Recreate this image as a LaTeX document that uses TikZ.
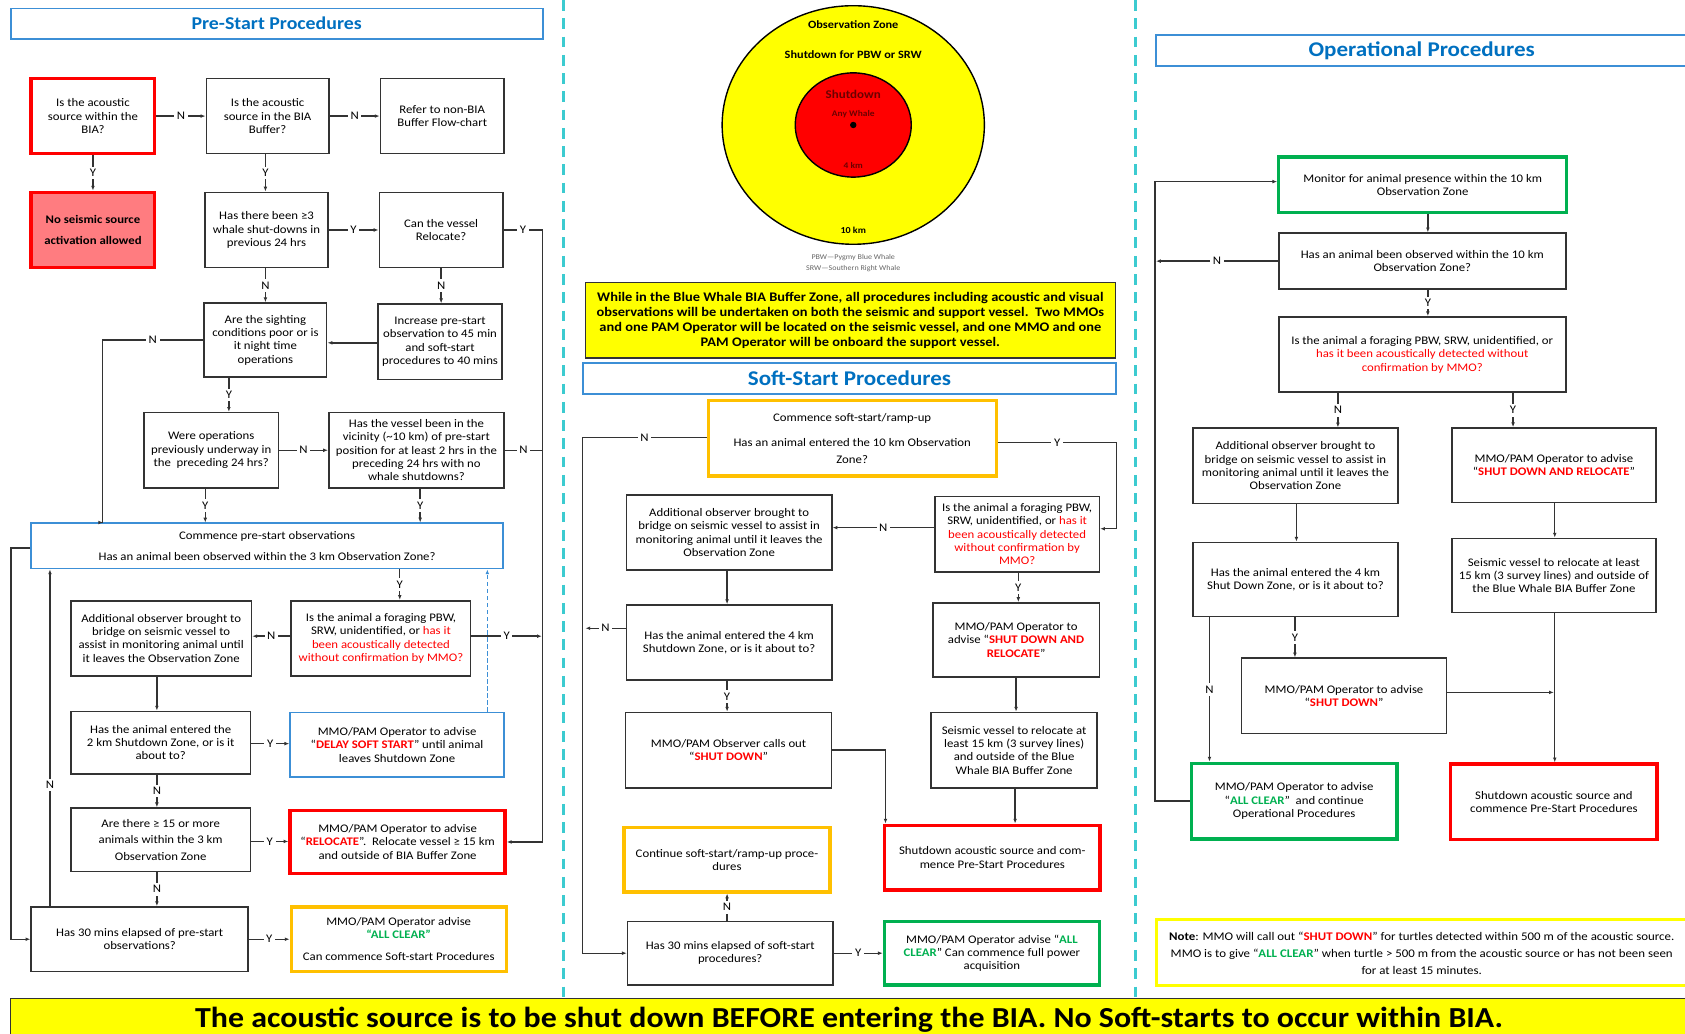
\documentclass[tikz,border=0pt]{standalone}
\usepackage{fontspec}
\setmainfont{Carlito}[FakeStretch=1.1]
\usetikzlibrary{arrows.meta}
\definecolor{bxgray}{HTML}{333333}
\definecolor{ttlblue}{HTML}{0070C0}
\definecolor{lineblue}{HTML}{3C8FD6}
\definecolor{redb}{HTML}{FF0000}
\definecolor{pinkf}{HTML}{FF7C80}
\definecolor{orangeb}{HTML}{FFC000}
\definecolor{greenb}{HTML}{00B050}
\definecolor{yel}{HTML}{FFFF00}
\definecolor{sepcol}{HTML}{3CCBD0}
\definecolor{maroon}{HTML}{6B0000}
\newcommand{\bxfont}{\fontsize{10.8}{12.4}\selectfont}
\newcommand{\ttlfont}{\fontsize{16.8}{20}\selectfont\bfseries}
\newcommand{\bigttlfont}{\fontsize{19.5}{22}\selectfont\bfseries}
\newcommand{\rd}[1]{\textcolor{redb}{#1}}
\newcommand{\rdb}[1]{\textcolor{redb}{\bfseries #1}}
\newcommand{\grb}[1]{\textcolor{greenb}{\bfseries #1}}
\tikzstyle{bx}=[draw=bxgray,line width=1.5pt,align=center,inner sep=1pt,font=\bxfont]
\tikzstyle{rbx}=[bx,draw=redb,line width=3.2pt]
\tikzstyle{obx}=[bx,draw=orangeb,line width=3pt]
\tikzstyle{gbx}=[bx,draw=greenb,line width=3pt]
\tikzstyle{bbx}=[bx,draw=lineblue,line width=1.6pt]
\tikzstyle{ttl}=[draw=lineblue,line width=1.6pt,text=ttlblue,font=\ttlfont]
\tikzstyle{lab}=[fill=white,inner sep=2.5pt,font=\bxfont]
\tikzstyle{ln}=[draw=bxgray,line width=1.3pt]
\tikzstyle{arr}=[ln,-{Latex[length=4.5pt,width=3.5pt]}]
\tikzstyle{sep}=[draw=sepcol,line width=2.8pt,dash pattern=on 10pt off 7pt]
\begin{document}
\begin{tikzpicture}[x=1pt,y=-1pt]
\useasboundingbox (0,0) rectangle (1568,962);
\node[ttl,minimum width=495pt,minimum height=28pt] (pst) at (257.5,22) {Pre-Start Procedures};
\node[rbx,minimum width=115pt,minimum height=70pt] (a1) at (86.5,108) {Is the acoustic\\source within the\\BIA?};
\node[bx,minimum width=114pt,minimum height=70pt] (a2) at (249,108) {Is the acoustic\\source in the BIA\\Buffer?};
\node[bx,minimum width=115pt,minimum height=70pt] (a3) at (411.5,108) {Refer to non-BIA\\Buffer Flow-chart};
\node[rbx,fill=pinkf,font=\bxfont\bfseries,minimum width=115pt,minimum height=70pt] (a4) at (86.5,214) {No seismic source\\[6.5pt]activation allowed};
\node[bx,minimum width=114pt,minimum height=70pt] (b1) at (248,214) {Has there been ≥3\\whale shut-downs in\\previous 24 hrs};
\node[bx,minimum width=115pt,minimum height=70pt] (b2) at (410.5,214) {Can the vessel\\Relocate?};
\node[bx,minimum width=114pt,minimum height=69pt] (c1) at (247,316.5) {Are the sighting\\conditions poor or is\\it night time\\operations};
\node[bx,minimum width=115pt,minimum height=70pt] (c2) at (409.5,318) {Increase pre-start\\observation to 45 min\\and soft-start\\procedures to 40 mins};
\node[bx,minimum width=125pt,minimum height=70pt] (d1) at (196.5,419) {Were operations\\previously underway in\\the\ \ preceding 24 hrs?};
\node[bx,minimum width=163pt,minimum height=70pt] (d2) at (387.5,419) {Has the vessel been in the\\vicinity (\textasciitilde10 km) of pre-start\\position for at least 2 hrs in the\\preceding 24 hrs with no\\whale shutdowns?};
\node[bbx,minimum width=439pt,minimum height=42pt] (e) at (248.5,508) {Commence pre-start observations\\[6.5pt]Has an animal been observed within the 3 km Observation Zone?};
\node[bx,minimum width=168pt,minimum height=70pt] (e1) at (150,594) {Additional observer brought to\\bridge on seismic vessel to\\assist in monitoring animal until\\it leaves the Observation Zone};
\node[bx,minimum width=167pt,minimum height=70pt] (e2) at (354.5,594) {Is the animal a foraging PBW,\\SRW, unidentified, or \rd{has it}\\\rd{been acoustically detected}\\\rd{without confirmation by MMO?}};
\node[bx,minimum width=167pt,minimum height=58pt] (f1) at (149.5,691) {Has the animal entered the\\2 km Shutdown Zone, or is it\\about to?};
\node[bbx,minimum width=199pt,minimum height=60pt] (f2) at (369.5,693) {MMO/PAM Operator to advise\\“\rdb{DELAY SOFT START}” until animal\\leaves Shutdown Zone};
\node[bx,minimum width=167pt,minimum height=59pt] (g1) at (149.5,781.5) {Are there ≥ 15 or more\\[3pt]animals within the 3 km\\[3pt]Observation Zone};
\node[rbx,minimum width=200pt,minimum height=59pt] (g2) at (370,783.5) {MMO/PAM Operator to advise\\“\rdb{RELOCATE}”.\ \ Relocate vessel ≥ 15 km\\and outside of BIA Buffer Zone};
\node[bx,minimum width=202pt,minimum height=60pt] (h1) at (130,874) {Has 30 mins elapsed of pre-start\\observations?};
\node[obx,minimum width=200pt,minimum height=60pt] (h2) at (371,874) {MMO/PAM Operator advise\\\grb{“ALL CLEAR”}\\[8pt]Can commence Soft-start Procedures};
\draw[arr] (a1) -- node[lab]{N} (a2);
\draw[arr] (a2) -- node[lab]{N} (a3);
\draw[arr] (a1) -- node[lab]{Y} (a4);
\draw[arr] ([xshift=-2pt]a2.south) -- node[lab]{Y} ([xshift=-2pt]a2.south |- b1.north);
\draw[arr] (b1) -- node[lab]{Y} (b2);
\draw[arr] (b2.east) -- node[lab]{Y} ++(36,0) |- (g2.east);
\draw[arr] ([xshift=-1pt]b1.south) -- node[lab]{N} ([xshift=-1pt]b1.south |- c1.north);
\draw[arr] (b2.south) -- node[lab]{N} (b2.south |- c2.north);
\draw[arr] ([yshift=-1pt]c2.west) -- ([yshift=-1pt]c2.west -| c1.east);
\draw[arr] (c1.west) -- node[lab]{N} ++(-94,0) |- ([xshift=-152.5pt]e.north);
\draw[arr] ([xshift=-34pt]c1.south) -- node[lab]{Y} ([xshift=-34pt]c1.south |- d1.north);
\draw[arr] (d1) -- node[lab]{N} (d2);
\draw[ln] (d2.east) -- node[lab]{N} ++(35,0);
\draw[arr] ([xshift=-5.5pt]d1.south) -- node[lab]{Y} ([xshift=-5.5pt]d1.south |- e.north);
\draw[arr] ([xshift=3.5pt]d2.south) -- node[lab]{Y} ([xshift=3.5pt]d2.south |- e.north);
\draw[arr] ([xshift=123.5pt]e.south) -- node[lab]{Y} ([xshift=123.5pt]e.south |- e2.north);
\draw[arr] ([yshift=2pt]e2.west) -- node[lab]{N} ([yshift=2pt]e2.west -| e1.east);
\draw[arr] ([yshift=2pt]e2.east) -- node[lab]{Y} ++(65.5,0);
\draw[arr] ([xshift=-4pt]e1.south) -- ([xshift=-4pt]e1.south |- f1.north);
\draw[arr] ([yshift=-1pt]f1.east) -- node[lab]{Y} ([yshift=-1pt]f1.east -| f2.west);
\draw[arr,draw=lineblue,dash pattern=on 4pt off 2.5pt] ([xshift=84pt]f2.north) -- ([xshift=84pt]f2.north |- e.south);
\draw[arr] ([xshift=-3.5pt]f1.south) -- node[lab]{N} ([xshift=-3.5pt]f1.south |- g1.north);
\draw[arr] ([yshift=-1.5pt]g1.east) -- node[lab]{Y} ([yshift=-1.5pt]g1.east -| g2.west);
\draw[arr] ([xshift=-3.5pt]g1.south) -- node[lab]{N} ([xshift=-3.5pt]g1.south |- h1.north);
\draw[arr] (h1.east) -- node[lab]{Y} (h1.east -| h2.west);
\draw[arr] ([xshift=-83.5pt]h1.north) -- node[lab,pos=0.36]{N} ([xshift=-83.5pt]h1.north |- e.south);
\draw[arr] ([yshift=-2pt]e.west) -- ++(-18,0) |- (h1.west);
\draw[sep] (524.6,0) -- (524.6,929);
\draw[sep] (1057,0) -- (1057,929);
\draw[line width=1.3pt,fill=yel] (794,116.3) ellipse [x radius=122pt,y radius=111pt];
\draw[line width=1.3pt,fill=redb] (794,116.3) ellipse [x radius=54pt,y radius=48.5pt];
\fill (794,116.3) circle [radius=3pt];
\node[font=\fontsize{10.4}{12}\selectfont\bfseries] (obz) at (794,22.6) {Observation Zone};
\node[font=\fontsize{10.4}{12}\selectfont\bfseries] (sdp) at (794,50.6) {Shutdown for PBW or SRW};
\node[font=\fontsize{11}{12}\selectfont\bfseries,text=maroon] (sdn) at (794,87.8) {Shutdown};
\node[font=\fontsize{8}{9}\selectfont\bfseries,text=maroon] (anw) at (794,106.5) {Any Whale};
\node[font=\fontsize{8}{9}\selectfont\bfseries,text=maroon] (fkm) at (794,154) {4 km};
\node[font=\fontsize{8.5}{10}\selectfont\bfseries] (tkm) at (794,214) {10 km};
\node[font=\fontsize{6.8}{10}\selectfont,text=black!60,align=center] (lgd) at (794,244.5) {PBW—Pygmy Blue Whale\\SRW—Southern Right Whale};
\node[fill=yel,draw=bxgray,line width=1.3pt,align=center,inner sep=1pt,font=\fontsize{12.2}{14}\selectfont\bfseries,minimum width=493.4pt,minimum height=70pt] (bwz) at (791.3,298) {While in the Blue Whale BIA Buffer Zone, all procedures including acoustic and visual\\observations will be undertaken on both the seismic and support vessel.\ \ Two MMOs\\and one PAM Operator will be located on the seismic vessel, and one MMO and one\\PAM Operator will be onboard the support vessel.};
\node[ttl,font=\bigttlfont,minimum width=496pt,minimum height=28.7pt] (sst) at (790.5,352) {Soft-Start Procedures};
\node[obx,minimum width=268pt,minimum height=70pt] (s1) at (793,408) {Commence soft-start/ramp-up\\[10.5pt]Has an animal entered the 10 km Observation\\[3.5pt]Zone?};
\node[bx,minimum width=191pt,minimum height=70pt] (s2) at (678.5,495.5) {Additional observer brought to\\bridge on seismic vessel to assist in\\monitoring animal until it leaves the\\Observation Zone};
\node[bx,minimum width=153pt,minimum height=70pt] (s3) at (946.5,497) {Is the animal a foraging PBW,\\SRW, unidentified, or \rd{has it}\\\rd{been acoustically detected}\\\rd{without confirmation by}\\\rd{MMO?}};
\node[bx,minimum width=191pt,minimum height=70pt] (s4) at (678.5,598) {Has the animal entered the 4 km\\Shutdown Zone, or is it about to?};
\node[bx,minimum width=155pt,minimum height=69pt] (s5) at (945.5,595.5) {MMO/PAM Operator to\\advise “\rdb{SHUT DOWN AND}\\\rdb{RELOCATE}”};
\node[bx,minimum width=191.6pt,minimum height=70pt] (s6) at (678,698) {MMO/PAM Observer calls out\\“\rdb{SHUT DOWN}”};
\node[bx,minimum width=154.6pt,minimum height=70pt] (s7) at (943.7,698) {Seismic vessel to relocate at\\least 15 km (3 survey lines)\\and outside of the Blue\\Whale BIA Buffer Zone};
\node[rbx,minimum width=200.8pt,minimum height=60pt] (s8) at (923.4,798) {Shutdown acoustic source and com-\\mence Pre-Start Procedures};
\node[obx,minimum width=191.7pt,minimum height=60pt] (s10) at (676.5,800) {Continue soft-start/ramp-up proce-\\dures};
\node[bx,minimum width=191pt,minimum height=59pt] (s9) at (679.5,887) {Has 30 mins elapsed of soft-start\\procedures?};
\node[gbx,minimum width=200pt,minimum height=59pt] (s11) at (923,887) {MMO/PAM Operator advise “\grb{ALL}\\\grb{CLEAR}” Can commence full power\\acquisition};
\draw[arr] ([yshift=1pt]s1.west) -- node[lab]{N} ++(-115.5,0) |- (s9.west);
\draw[arr] ([yshift=-4pt]s1.east) -- node[lab]{Y} ++(110.6,0) |- ([yshift=5pt]s3.east);
\draw[arr] ([yshift=6pt]s3.west) -- node[lab]{N} ([yshift=6pt]s3.west -| s2.east);
\draw[arr] ([xshift=-1.9pt]s2.south) -- ([xshift=-1.9pt]s2.south |- s4.north);
\draw[arr] ([yshift=13.4pt]s4.west) -- node[lab]{N} ++(-37.5,0);
\draw[arr] ([xshift=1.1pt]s3.south) -- node[lab]{Y} ([xshift=1.1pt]s3.south |- s5.north);
\draw[arr] ([xshift=-1.9pt]s4.south) -- node[lab]{Y} ([xshift=-1.9pt]s4.south |- s6.north);
\draw[arr] (s6.east) -| ([xshift=-99.4pt]s8.north);
\draw[arr] (s5.south) -- (s5.south |- s7.north);
\draw[arr] ([xshift=0.9pt]s7.south) -- ([xshift=0.9pt]s7.south |- s8.north);
\draw[arr] ([xshift=-2.9pt]s9.north) -- node[lab]{N} ([xshift=-2.9pt]s9.north |- s10.south);
\draw[arr] (s9.east) -- node[lab]{Y} (s9.east -| s11.west);
\draw[draw=lineblue,line width=1.6pt] (1075.4,32.6) rectangle (1590,61.4);
\node[text=ttlblue,font=\bigttlfont] (opt) at (1323,47) {Operational Procedures};
\node[gbx,minimum width=267.7pt,minimum height=52pt] (r1) at (1323.9,172) {Monitor for animal presence within the 10 km\\Observation Zone};
\node[bx,minimum width=267pt,minimum height=52pt] (r2) at (1323.5,243) {Has an animal been observed within the 10 km\\Observation Zone?};
\node[bx,minimum width=267pt,minimum height=70pt] (r3) at (1323.5,330) {Is the animal a foraging PBW, SRW, unidentified, or\\\rd{has it been acoustically detected without}\\\rd{confirmation by MMO?}};
\node[bx,minimum width=191pt,minimum height=70pt] (r4) at (1205.5,433.5) {Additional observer brought to\\bridge on seismic vessel to assist in\\monitoring animal until it leaves the\\Observation Zone};
\node[bx,minimum width=190pt,minimum height=69.5pt] (r5) at (1446,433) {MMO/PAM Operator to advise\\“\rdb{SHUT DOWN AND RELOCATE}”};
\node[bx,minimum width=191pt,minimum height=69pt] (r6) at (1205.5,539.3) {Has the animal entered the 4 km\\Shut Down Zone, or is it about to?};
\node[bx,minimum width=190pt,minimum height=69pt] (r7) at (1446,535.5) {Seismic vessel to relocate at least\\15 km (3 survey lines) and outside of\\the Blue Whale BIA Buffer Zone};
\node[bx,minimum width=190.7pt,minimum height=70pt] (r9) at (1250.7,647.5) {MMO/PAM Operator to advise\\“\rdb{SHUT DOWN}”};
\node[gbx,minimum width=191.3pt,minimum height=70.5pt] (r8) at (1204.3,745.5) {MMO/PAM Operator to advise\\“\grb{ALL CLEAR}”\ \ and continue\\Operational Procedures};
\node[rbx,minimum width=192pt,minimum height=70pt] (r10) at (1446,746) {Shutdown acoustic source and\\commence Pre-Start Procedures};
\draw[arr] ([xshift=4.8pt]r1.south) -- ([xshift=4.8pt]r1.south |- r2.north);
\draw[arr] (r2.west) -- node[lab]{N} ++(-113.6,0);
\draw[arr] ([xshift=5.2pt]r2.south) -- node[lab]{Y} ([xshift=5.2pt]r2.south |- r3.north);
\draw[arr] ([xshift=-78.5pt]r3.south) -- node[lab]{N} ([xshift=-78.5pt]r3.south |- r4.north);
\draw[arr] ([xshift=84.5pt]r3.south) -- node[lab]{Y} ([xshift=84.5pt]r3.south |- r5.north);
\draw[arr] ([xshift=0.9pt]r4.south) -- ([xshift=0.9pt]r4.south |- r6.north);
\draw[arr] ([xshift=0.8pt]r5.south) -- ([xshift=0.8pt]r5.south |- r7.north);
\draw[arr] ([xshift=-0.5pt]r6.south) -- node[lab]{Y} ([xshift=-0.5pt]r6.south |- r9.north);
\draw[arr] ([xshift=-80pt]r6.south) -- node[lab]{N} ([xshift=-80pt]r6.south |- r8.north);
\draw[arr] ([yshift=3.2pt]r9.east) -- ([yshift=3.2pt]r9.east -| r10.north);
\draw[arr] ([xshift=0.8pt]r7.south) -- ([xshift=0.8pt]r7.south |- r10.north);
\draw[arr] (r8.west) -- ++(-32.3,0) |- ([yshift=3pt]r1.west);
\draw[draw=yel,line width=2.6pt] (1076,855.5) rectangle (1590,917.2);
\node[font=\fontsize{10.9}{16}\selectfont,align=center] (note) at (1323,887) {\textbf{Note}: MMO will call out “\rdb{SHUT DOWN}” for turtles detected within 500 m of the acoustic source.\\MMO is to give “\grb{ALL CLEAR}” when turtle > 500 m from the acoustic source or has not been seen\\for at least 15 minutes.};
\draw[draw=bxgray,line width=1.3pt,fill=yel] (10,929) rectangle (1590,990);
\node[anchor=base,font=\fontsize{27}{30}\selectfont\bfseries] (bnr) at (790,956) {The acoustic source is to be shut down BEFORE entering the BIA. No Soft-starts to occur within BIA.};
\end{tikzpicture}
\end{document}
